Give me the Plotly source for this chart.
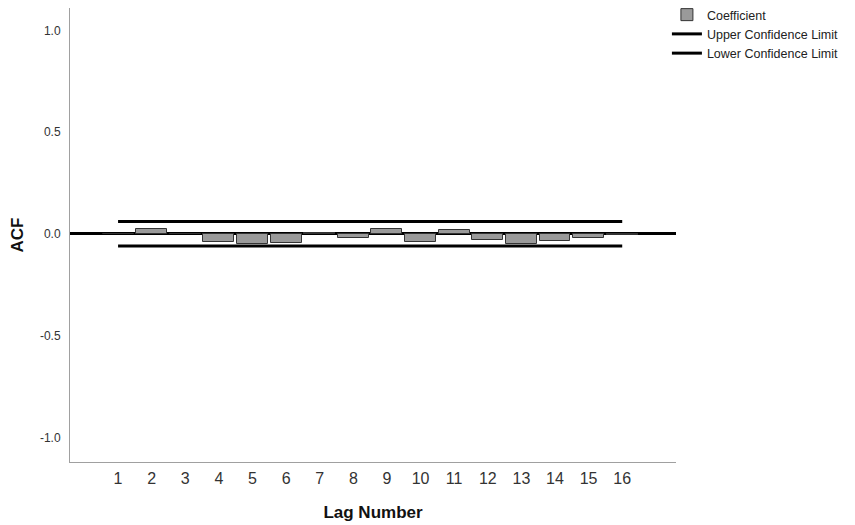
import plotly.graph_objects as go

lags = list(range(1, 17))
coefficient = [0.002, 0.025, 0.001, -0.037, -0.050, -0.042, 0.007, -0.020,
               0.025, -0.037, 0.018, -0.028, -0.047, -0.035, -0.018, -0.004]
upper_limit = [0.061] * 16
lower_limit = [-0.059] * 16
y_ticks = [-1.0, -0.5, 0.0, 0.5, 1.0]

FONT = "Liberation Sans, Arial, sans-serif"

fig = go.Figure()
fig.add_trace(go.Bar(
    x=lags, y=coefficient, name="Coefficient", width=0.92,
    marker=dict(color="#9a9a9a", line=dict(color="#333333", width=1)),
))
fig.add_trace(go.Scatter(
    x=lags, y=upper_limit, mode="lines", name="Upper Confidence Limit",
    line=dict(color="black", width=3),
))
fig.add_trace(go.Scatter(
    x=lags, y=lower_limit, mode="lines", name="Lower Confidence Limit",
    line=dict(color="black", width=3),
))

fig.update_layout(
    width=855, height=525,
    margin=dict(l=62, r=187, t=0, b=71, autoexpand=False),
    plot_bgcolor="white", paper_bgcolor="white",
    font=dict(family=FONT, color="#222222"),
    bargap=0,
    legend=dict(xref="paper", yref="paper", x=0.985, y=1.0176,
                xanchor="left", yanchor="top",
                font=dict(size=12.5, family=FONT, color="#222222"),
                tracegroupgap=0, itemwidth=30, bgcolor="rgba(0,0,0,0)"),
    xaxis=dict(
        range=[-0.43, 17.6], tickmode="array", tickvals=lags,
        ticktext=[str(v) for v in lags],
        showgrid=False, zeroline=False, showline=True, linecolor="#a0a0a0",
        linewidth=1, ticks="", tickfont=dict(size=16, color="#333333"),
        ticklabelstandoff=2, automargin=False,
        title=dict(text="<b>Lag Number</b>", font=dict(size=17, color="#111111"),
                   standoff=19),
    ),
    yaxis=dict(
        range=[-1.12, 1.11], tickmode="array", tickvals=y_ticks,
        ticktext=["%.1f" % v for v in y_ticks],
        showgrid=False, zeroline=True, zerolinecolor="black", zerolinewidth=3,
        showline=True, linecolor="#a0a0a0", linewidth=1, ticks="",
        tickfont=dict(size=12, color="#333333"), ticklabelstandoff=6,
        automargin=False,
        title=dict(text="<b>ACF</b>", font=dict(size=17, color="#111111"),
                   standoff=17),
    ),
)

fig.write_html("out.html")
